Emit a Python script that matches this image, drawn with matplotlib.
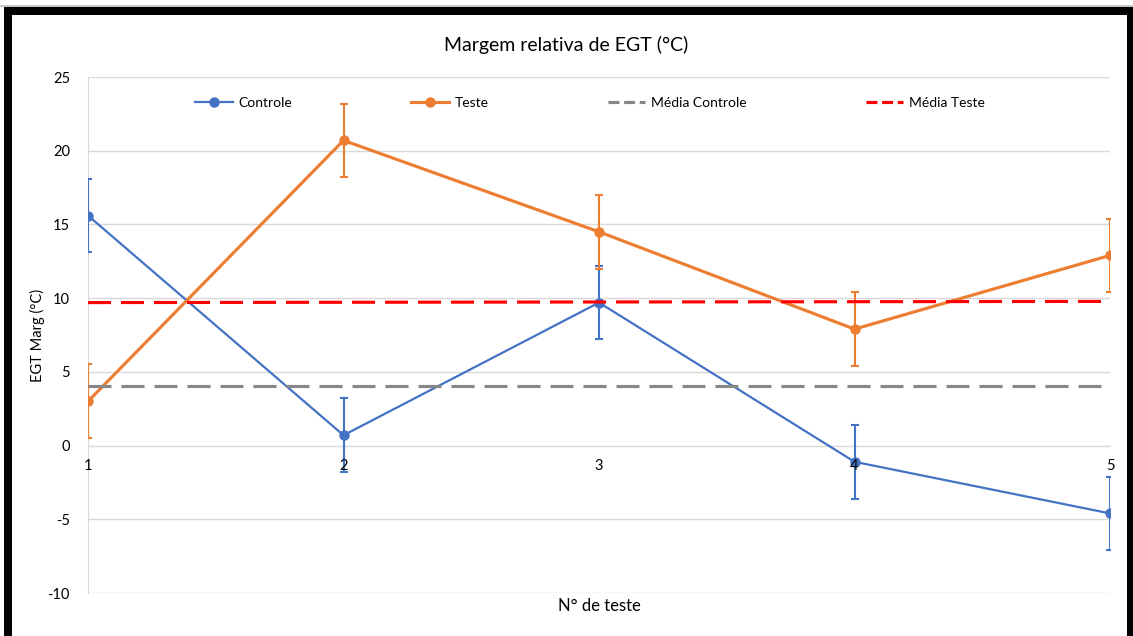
import matplotlib.pyplot as plt
from matplotlib.patches import Rectangle
from matplotlib.lines import Line2D

plt.rcParams['font.family'] = ['Lato', 'DejaVu Sans']
plt.rcParams['axes.unicode_minus'] = False

# test data
testes = [1, 2, 3, 4, 5]
controle = [15.6, 0.7, 9.7, -1.1, -4.6]
teste = [3.0, 20.7, 14.5, 7.9, 12.9]
erro = [2.5, 2.5, 2.5, 2.5, 2.5]
media_controle = [4.06, 4.06, 4.06, 4.06, 4.06]
media_teste = [9.7, 9.72, 9.74, 9.76, 9.78]
yticks = [-10, -5, 0, 5, 10, 15, 20, 25]

azul = '#4472C4'
laranja = '#ED7D31'

fig = plt.figure(figsize=(11.33, 6.36), dpi=100)
ax = fig.add_axes([0.0777, 0.0676, 0.902, 0.8113])

ax.errorbar(testes, controle, yerr=erro, color=azul, lw=1.6, marker='o', ms=6.5,
            elinewidth=1.5, capsize=3, capthick=1.5, label='Controle', zorder=3)
ax.errorbar(testes, teste, yerr=erro, color=laranja, lw=2.25, marker='o', ms=6.5,
            elinewidth=1.5, capsize=3, capthick=1.5, label='Teste', zorder=3)
ax.plot(testes, media_controle, color='#878787', lw=2.25, dashes=(7.36, 3.2),
        label='Média Controle', zorder=4)
ax.plot(testes, media_teste, color='#FF0000', lw=2.25, dashes=(7.36, 3.2),
        label='Média Teste', zorder=4)

ax.set_xlim(1, 5)
ax.set_ylim(-10, 25)
ax.set_yticks(yticks)
ax.set_xticks(testes)
ax.grid(axis='y', color='#D9D9D9', lw=1)
ax.set_axisbelow(True)
# category labels sit on the zero line, above the series
ax.xaxis.set_zorder(10)

for s in ['top', 'right']:
    ax.spines[s].set_visible(False)
ax.spines['left'].set_color('#D9D9D9')
ax.spines['bottom'].set_position(('data', 0))
ax.spines['bottom'].set_color('#D9D9D9')
ax.spines['bottom'].set_zorder(0.5)
ax.tick_params(axis='both', length=0, labelsize=10.5, colors='#000000')
ax.tick_params(axis='y', pad=13)
ax.tick_params(axis='x', pad=10)

fig.text(0.5, 0.93, 'Margem relativa de EGT (°C)', ha='center', va='center', fontsize=14)
fig.text(0.033, 0.473, 'EGT Marg (°C)', ha='center', va='center', rotation=90, fontsize=10.5)
fig.text(0.529, 0.047, 'N° de teste', ha='center', va='center', fontsize=12)

handles = [
    Line2D([], [], color=azul, lw=1.6, marker='o', ms=6.5),
    Line2D([], [], color=laranja, lw=2.25, marker='o', ms=6.5),
    Line2D([], [], color='#878787', lw=2.25, dashes=(3.5, 1.5)),
    Line2D([], [], color='#FF0000', lw=2.25, dashes=(3.5, 1.5)),
]
ax.legend(handles, ['Controle', 'Teste', 'Média Controle', 'Média Teste'],
          ncol=4, frameon=False, fontsize=10, loc='center',
          bbox_to_anchor=(590 / 1133, 1 - 103 / 636), bbox_transform=fig.transFigure,
          handlelength=2.7, handletextpad=0.4, columnspacing=8.6)

# black frame around the chart
fig.add_artist(Rectangle((0, 1 - 6.5 / 636), 1, 1 / 636, transform=fig.transFigure,
                         color='#C8C8C8', lw=0))
fig.add_artist(Rectangle((0.004, 1 - 15 / 636), 0.996, 8 / 636, transform=fig.transFigure,
                         color='black', lw=0))
fig.add_artist(Rectangle((4 / 1133, 0), 8 / 1133, 1 - 7 / 636, transform=fig.transFigure,
                         color='black', lw=0))
fig.add_artist(Rectangle((1 - 6 / 1133, 0), 6 / 1133, 1 - 7 / 636, transform=fig.transFigure,
                         color='black', lw=0))

fig.savefig('out.png', dpi=100)
